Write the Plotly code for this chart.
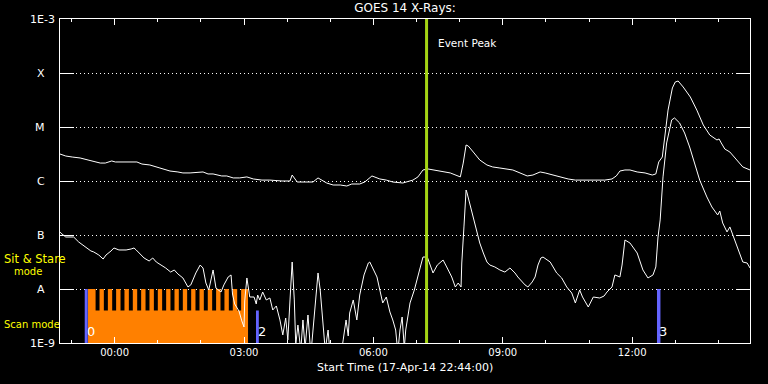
import numpy as np
import pandas as pd
import plotly.graph_objects as go

START = pd.Timestamp("2014-04-17 22:44:00")
SPAN_MIN = 960

# GOES 14 long channel (1-8 A): minutes after start, flux (W m^-2)
long_min = [0, 8, 17, 28, 39, 49, 56, 63, 72, 77,
            86, 97, 107, 114, 125, 139, 153, 164, 171, 181,
            195, 199, 206, 213, 225, 232, 241, 250, 260, 269,
            281, 292, 309, 320, 323, 330, 341, 352, 359, 371,
            380, 390, 399, 406, 417, 424, 434, 445, 454, 463,
            477, 491, 498, 505, 512, 519, 531, 543, 557, 561,
            565, 568, 575, 584, 594, 602, 612, 622, 630, 640,
            650, 658, 668, 675, 685, 696, 707, 717, 726, 737,
            749, 758, 768, 774, 779, 786, 793, 803, 814, 824,
            829, 831, 833, 838, 842, 846, 852, 856, 860, 867,
            877, 886, 895, 904, 914, 917, 920, 925, 932, 942,
            950, 960]
long_flux = [3.16e-6, 2.90e-6, 2.78e-6, 2.67e-6, 2.45e-6, 2.25e-6, 2.15e-6, 2.15e-6, 2.35e-6, 2.25e-6,
             2.25e-6, 2.25e-6, 2.25e-6, 2.06e-6, 1.98e-6, 1.74e-6, 1.53e-6, 1.47e-6, 1.41e-6, 1.41e-6,
             1.47e-6, 1.47e-6, 1.35e-6, 1.35e-6, 1.24e-6, 1.24e-6, 1.14e-6, 1.14e-6, 1.19e-6, 1.09e-6,
             1.04e-6, 1.04e-6, 1.00e-6, 1.00e-6, 1.29e-6, 9.58e-7, 9.58e-7, 9.58e-7, 1.14e-6, 9.18e-7,
             8.43e-7, 8.43e-7, 8.08e-7, 8.80e-7, 8.80e-7, 9.58e-7, 1.24e-6, 1.09e-6, 1.04e-6, 9.58e-7,
             9.18e-7, 1.04e-6, 1.19e-6, 1.60e-6, 1.67e-6, 1.60e-6, 1.53e-6, 1.41e-6, 1.19e-6, 2.15e-6,
             4.64e-6, 4.45e-6, 3.44e-6, 2.45e-6, 1.98e-6, 1.82e-6, 1.74e-6, 1.67e-6, 1.60e-6, 1.41e-6,
             1.24e-6, 1.29e-6, 1.47e-6, 1.41e-6, 1.29e-6, 1.19e-6, 1.09e-6, 1.04e-6, 1.04e-6, 1.04e-6,
             1.04e-6, 1.04e-6, 1.09e-6, 1.24e-6, 1.53e-6, 1.60e-6, 1.60e-6, 1.47e-6, 1.41e-6, 1.29e-6,
             1.35e-6, 1.90e-6, 2.25e-6, 2.78e-6, 7.74e-6, 2.06e-5, 5.28e-5, 6.81e-5, 7.11e-5, 5.51e-5,
             3.59e-5, 2.06e-5, 1.09e-5, 7.11e-6, 5.75e-6, 6.00e-6, 5.06e-6, 3.91e-6, 3.44e-6, 2.45e-6,
             1.82e-6, 1.60e-6]

# GOES 14 short channel (0.5-4 A): minutes after start, flux (W m^-2)
short_min = [0, 1, 8, 19, 26, 36, 43, 47, 54, 60,
             64, 71, 75, 82, 92, 99, 103, 106, 113, 117,
             124, 129, 134, 141, 147, 154, 159, 164, 171, 178,
             182, 189, 195, 199, 203, 207, 213, 217, 224, 228,
             234, 238, 240, 243, 249, 253, 256, 257, 260, 264,
             270, 273, 275, 278, 282, 287, 292, 296, 301, 306,
             310, 314, 317, 320, 323, 326, 328, 331, 335, 338,
             341, 345, 349, 352, 356, 359, 362, 365, 369, 373,
             377, 384, 390, 394, 398, 401, 403, 408, 413, 417,
             423, 429, 431, 435, 441, 445, 449, 454, 459, 463,
             467, 470, 473, 476, 479, 481, 487, 493, 497, 501,
             505, 511, 515, 519, 525, 529, 533, 538, 545, 550,
             554, 558, 559, 562, 565, 566, 570, 575, 580, 584,
             589, 594, 598, 605, 612, 619, 626, 633, 637, 643,
             647, 651, 657, 661, 665, 669, 672, 682, 691, 698,
             705, 712, 717, 723, 727, 735, 742, 751, 757, 761,
             768, 772, 779, 782, 786, 793, 803, 811, 818, 825,
             829, 832, 835, 839, 844, 851, 855, 862, 869, 876,
             883, 890, 900, 907, 915, 918, 922, 928, 932, 939,
             946, 950, 956, 960]
short_flux = [1.14e-7, 1.09e-7, 9.18e-8, 9.18e-8, 7.42e-8, 6.00e-8, 5.06e-8, 4.85e-8, 4.26e-8, 3.59e-8,
              4.26e-8, 5.06e-8, 5.75e-8, 5.28e-8, 5.28e-8, 5.51e-8, 5.75e-8, 5.28e-8, 4.26e-8, 3.75e-8,
              3.30e-8, 3.75e-8, 3.16e-8, 2.78e-8, 2.45e-8, 2.06e-8, 2.25e-8, 1.90e-8, 1.60e-8, 1.09e-8,
              1.19e-8, 1.98e-8, 2.78e-8, 2.45e-8, 1.29e-8, 9.58e-9, 2.25e-8, 1.04e-8, 8.80e-9, 1.19e-8,
              1.67e-8, 1.82e-8, 8.08e-9, 5.28e-9, 3.91e-9, 2.56e-9, 1.98e-9, 6.00e-9, 1.60e-8, 7.11e-9,
              7.11e-9, 5.28e-9, 7.74e-9, 6.26e-9, 8.80e-9, 6.26e-9, 6.81e-9, 4.09e-9, 4.85e-9, 2.67e-9,
              1.41e-9, 2.90e-9, 1.14e-9, 6.26e-9, 3.16e-8, 6.26e-9, 9.18e-10, 2.15e-9, 7.42e-10, 2.67e-9,
              8.08e-10, 3.30e-9, 6.00e-10, 1.74e-9, 6.26e-9, 1.98e-8, 9.58e-9, 2.67e-9, 7.42e-10, 1.74e-9,
              3.91e-10, 6.00e-10, 4.85e-10, 1.14e-9, 2.67e-9, 1.35e-9, 3.59e-9, 6.26e-9, 2.67e-9, 7.74e-9,
              1.82e-8, 3.03e-8, 3.16e-8, 2.45e-8, 1.67e-8, 9.58e-9, 5.51e-9, 7.11e-9, 3.75e-9, 2.67e-9,
              1.74e-9, 6.81e-10, 1.74e-9, 3.03e-9, 8.08e-10, 1.74e-9, 5.51e-9, 9.58e-9, 1.47e-8, 2.45e-8,
              3.91e-8, 3.91e-8, 2.78e-8, 1.98e-8, 2.78e-8, 3.16e-8, 3.44e-8, 2.56e-8, 1.67e-8, 1.09e-8,
              1.29e-8, 1.09e-8, 3.03e-8, 1.41e-7, 6.81e-7, 6.26e-7, 3.91e-7, 2.15e-7, 1.24e-7, 7.11e-8,
              4.64e-8, 3.16e-8, 2.78e-8, 2.56e-8, 2.25e-8, 2.06e-8, 2.45e-8, 1.98e-8, 1.67e-8, 1.35e-8,
              1.19e-8, 1.09e-8, 1.35e-8, 1.67e-8, 2.78e-8, 3.75e-8, 3.91e-8, 3.16e-8, 1.98e-8, 1.60e-8,
              1.09e-8, 8.43e-9, 5.51e-9, 9.58e-9, 7.11e-9, 4.64e-9, 7.11e-9, 6.81e-9, 7.42e-9, 8.80e-9,
              1.09e-8, 1.82e-8, 1.67e-8, 2.78e-8, 8.08e-8, 7.11e-8, 4.64e-8, 2.25e-8, 1.60e-8, 1.82e-8,
              2.56e-8, 9.18e-8, 1.90e-7, 1.19e-6, 5.06e-6, 1.35e-5, 1.47e-5, 1.19e-5, 7.74e-6, 4.26e-6,
              2.15e-6, 1.04e-6, 5.06e-7, 3.30e-7, 2.35e-7, 2.78e-7, 1.67e-7, 1.14e-7, 1.41e-7, 8.08e-8,
              4.64e-8, 3.16e-8, 3.03e-8, 2.45e-8]

# Observing programme (minutes after start)
scan_block = [39.0, 261.6]
scan_level = 4.0e-9
sas_level = 1.0e-8
raster_start = [39.0, 55.0, 66.6, 78.1, 89.7, 101.3, 112.9, 124.5, 136.1, 147.7,
                159.3, 170.9, 182.5, 194.1, 205.6, 217.2, 228.8, 240.4, 252.0]
raster_end = [49.5, 61.0, 72.6, 84.2, 95.8, 107.4, 119.0, 130.6, 142.1, 153.7,
              165.3, 176.9, 188.5, 200.1, 211.7, 223.3, 234.9, 246.5, 261.6]
obs_start = [34.4, 272.7, 830.6]
obs_end = [38.6, 276.6, 835.4]
obs_top = [1.0e-8, 4.0e-9, 1.0e-8]
obs_label = ["0", "2", "3"]

event_peak_min = 510

ytick_vals = [1e-9, 1e-8, 1e-7, 1e-6, 1e-5, 1e-4, 1e-3]
ytick_text = ["1E-9", "A", "B", "C", "M", "X", "1E-3"]
xtick_times = ["2014-04-18 00:00", "2014-04-18 03:00", "2014-04-18 06:00",
               "2014-04-18 09:00", "2014-04-18 12:00"]


def t(m):
    return START + pd.to_timedelta(m, unit="min")


def rects(x0s, x1s, y0s, y1s):
    xs, ys = [], []
    for a, b, c, d in zip(x0s, x1s, y0s, y1s):
        xs += [t(a), t(b), t(b), t(a), t(a), None]
        ys += [c, c, d, d, c, None]
    return xs, ys


fig = go.Figure()

# scan-mode base block + raster columns
sx, sy = rects([scan_block[0]], [scan_block[1]], [1e-9], [scan_level])
cx, cy = rects(raster_start, raster_end, [scan_level] * len(raster_start),
               [sas_level] * len(raster_start))
fig.add_trace(go.Scatter(x=sx + cx, y=sy + cy, mode="lines", fill="toself",
                         fillcolor="#ff8000", line=dict(width=0, color="#ff8000"),
                         hoverinfo="skip", showlegend=False))

# observation markers
bx, by = rects(obs_start, obs_end, [1e-9] * 3, obs_top)
fig.add_trace(go.Scatter(x=bx, y=by, mode="lines", fill="toself",
                         fillcolor="#6464ff", line=dict(width=0, color="#6464ff"),
                         hoverinfo="skip", showlegend=False))

# GOES curves
fig.add_trace(go.Scatter(x=t(np.array(long_min)), y=long_flux, mode="lines",
                         line=dict(color="white", width=1), showlegend=False))
fig.add_trace(go.Scatter(x=t(np.array(short_min)), y=short_flux, mode="lines",
                         line=dict(color="white", width=1), showlegend=False))

# event peak line
fig.add_trace(go.Scatter(x=[t(event_peak_min), t(event_peak_min)], y=[1e-9, 1e-3],
                         mode="lines", line=dict(color="#a4d414", width=3),
                         showlegend=False))

FONT = "DejaVu Sans"
ann = []
for v, s in zip(ytick_vals, ytick_text):
    ann.append(dict(xref="paper", x=0, yref="y", y=np.log10(v), text=s,
                    showarrow=False, xanchor="right", yanchor="middle",
                    xshift=-3 if s.startswith("1E") else -13,
                    font=dict(family=FONT, size=11, color="white")))
for s, m in zip(obs_label, obs_start):
    ann.append(dict(xref="x", x=t(m).strftime("%Y-%m-%d %H:%M:%S"), yref="y",
                    y=np.log10(1.6e-9), text=s, showarrow=False,
                    xanchor="left", yanchor="middle", xshift=0,
                    font=dict(family=FONT, size=13, color="white")))
ann.append(dict(xref="x", x=t(event_peak_min).strftime("%Y-%m-%d %H:%M:%S"),
                yref="paper", y=1 - 24 / 324, text="Event Peak", showarrow=False,
                xanchor="left", yanchor="middle", xshift=9,
                font=dict(family=FONT, size=10.5, color="white")))
ann.append(dict(xref="paper", x=0, yref="paper", y=1 - 240 / 324, text="Sit & Stare",
                showarrow=False, xanchor="left", yanchor="middle", xshift=-58,
                font=dict(family=FONT, size=11.5, color="#ffff00")))
ann.append(dict(xref="paper", x=0, yref="paper", y=1 - 252.7 / 324, text="mode",
                showarrow=False, xanchor="left", yanchor="middle", xshift=-48,
                font=dict(family=FONT, size=10, color="#ffff00")))
ann.append(dict(xref="paper", x=0, yref="paper", y=1 - 305 / 324, text="Scan mode",
                showarrow=False, xanchor="left", yanchor="middle", xshift=-58,
                font=dict(family=FONT, size=10, color="#ffff00")))
ann.append(dict(xref="paper", x=0.5, yref="paper", y=-25 / 324,
                text="Start Time (17-Apr-14 22:44:00)", showarrow=False,
                xanchor="center", yanchor="middle",
                font=dict(family=FONT, size=11, color="white")))

fig.update_layout(
    width=768, height=384, autosize=False,
    margin=dict(l=60, r=18, t=19, b=41),
    paper_bgcolor="black", plot_bgcolor="black",
    title=dict(text="GOES 14 X-Rays:", x=0.5, xref="paper", y=1 - 8 / 384,
               yref="container", xanchor="center", yanchor="middle",
               font=dict(family=FONT, size=12, color="white")),
    annotations=ann,
    showlegend=False,
)
fig.update_xaxes(
    type="date", range=[t(0), t(SPAN_MIN)], automargin=False,
    tickvals=xtick_times, tickformat="%H:%M",
    ticks="inside", ticklen=6, tickcolor="white", tickwidth=1,
    minor=dict(dtick=3600000, tick0="2014-04-18 00:00", ticks="inside",
               ticklen=3, tickcolor="white", showgrid=False),
    showgrid=False, zeroline=False,
    showline=True, linecolor="white", linewidth=1, mirror="ticks",
    tickfont=dict(family=FONT, size=10, color="white"),
)
fig.update_yaxes(
    type="log", range=[-9, -3], automargin=False,
    tickvals=ytick_vals, showticklabels=False,
    ticks="inside", ticklen=14, tickcolor="white", tickwidth=1,
    showgrid=True, gridcolor="white", gridwidth=1, griddash="1px,3px",
    zeroline=False, showline=True, linecolor="white", linewidth=1, mirror="ticks",
)

fig.write_html("out.html",
               config={"displayModeBar": False},
               post_script="document.body.style.margin='0';"
                           "document.body.style.background='black';")
